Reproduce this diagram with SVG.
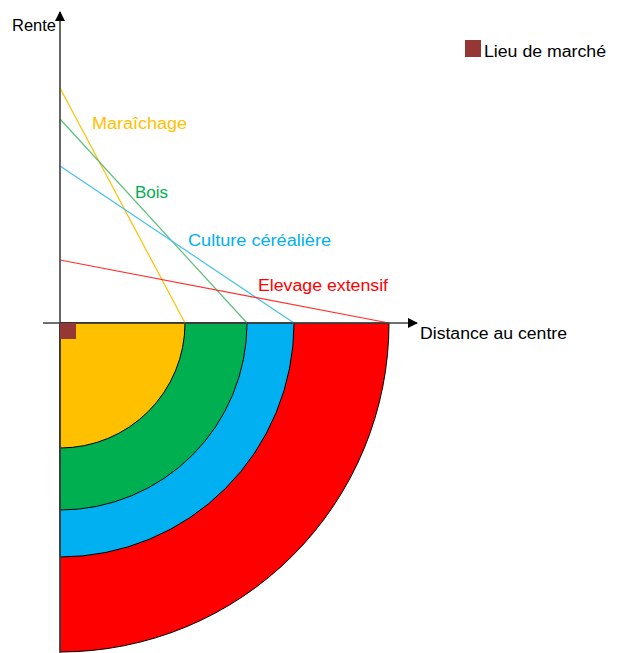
<svg xmlns="http://www.w3.org/2000/svg" width="623" height="653" viewBox="0 0 623 653">
<style>
text{font-family:"Liberation Sans",Arial,sans-serif;font-size:16px}
.ring{stroke:#000;stroke-width:1}
.rl{fill:none;stroke-width:1.2}
.ax{stroke:#404040;stroke-width:1.6;fill:none}
</style>
<defs>
<marker id="ah" markerWidth="10" markerHeight="10" refX="9" refY="5" orient="auto" markerUnits="userSpaceOnUse"><path d="M0,0 L10,5 L0,10 Z" fill="#000"/></marker>
</defs>
<rect width="623" height="653" fill="#fff"/>
<g id="zones">
<path id="zone-elevage" class="ring" fill="#FF0000" d="M60,323 L389,323 A329,329 0 0 1 60,652 Z"/>
<path id="zone-cereales" class="ring" fill="#00B0F0" d="M60,323 L294,323 A234,234 0 0 1 60,557 Z"/>
<path id="zone-bois" class="ring" fill="#00B050" d="M60,323 L247,323 A187,187 0 0 1 60,510 Z"/>
<path id="zone-maraichage" class="ring" fill="#FFC000" d="M60,323 L185,323 A125,125 0 0 1 60,448 Z"/>
</g>
<g id="connectors">
<line class="rl" stroke="#FFC000" x1="60" y1="88" x2="185" y2="323"/>
<line class="rl" stroke="#5BBF7A" x1="60" y1="119" x2="247" y2="323"/>
<line class="rl" stroke="#47BFF0" x1="60" y1="166" x2="294" y2="323"/>
<line class="rl" stroke="#FF3030" x1="60" y1="260" x2="389" y2="323"/>
</g>
<g id="axes">
<line class="ax" x1="60" y1="653" x2="60" y2="12" marker-end="url(#ah)"/>
<line class="ax" x1="43" y1="323" x2="417" y2="323" marker-end="url(#ah)"/>
</g>
<g id="market"><rect x="60" y="323" width="16" height="16" fill="#953735"/></g>
<g id="legend">
<rect x="465" y="40" width="16" height="17" fill="#953735"/>
<text x="484" y="57" fill="#000" textLength="122" lengthAdjust="spacingAndGlyphs">Lieu de marché</text>
</g>
<g id="labels">
<text x="12" y="31" fill="#000" textLength="44" lengthAdjust="spacingAndGlyphs">Rente</text>
<text x="420" y="339" fill="#000" textLength="147" lengthAdjust="spacingAndGlyphs">Distance au centre</text>
<text x="92" y="129" fill="#FFC000" textLength="95" lengthAdjust="spacingAndGlyphs">Maraîchage</text>
<text x="135" y="198" fill="#00B050" textLength="33" lengthAdjust="spacingAndGlyphs">Bois</text>
<text x="188" y="246" fill="#00B0F0" textLength="143" lengthAdjust="spacingAndGlyphs">Culture céréalière</text>
<text x="258" y="291" fill="#FF0000" textLength="130" lengthAdjust="spacingAndGlyphs">Elevage extensif</text>
</g>
</svg>
